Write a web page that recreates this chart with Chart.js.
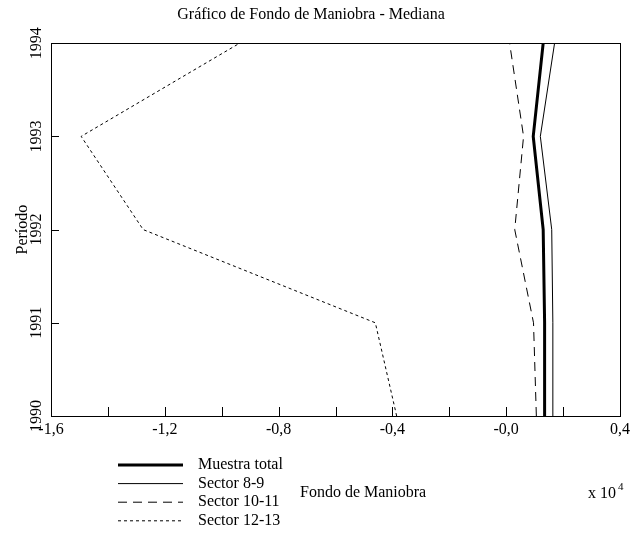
<!DOCTYPE html>
<html>
<head>
<meta charset="utf-8">
<script src="https://cdn.jsdelivr.net/npm/chart.js@4"></script>
<style>
  html, body { margin: 0; padding: 0; background: #fff; }
  #wrap { width: 634px; height: 548px; }
</style>
</head>
<body>
<div id="wrap"><canvas id="my-chart" width="634" height="548"></canvas></div>
<script>
// data (x in units of 10^4)
const years = [1990, 1991, 1992, 1993, 1994];
const muestraTotal = [0.135, 0.135, 0.13, 0.095, 0.13];
const sector89 = [0.164, 0.164, 0.16, 0.12, 0.17];
const sector1011 = [0.106, 0.096, 0.03, 0.061, 0.012];
const sector1213 = [-0.385, -0.46, -1.276, -1.494, -0.937];
const seriesNames = ['Muestra total', 'Sector 8-9', 'Sector 10-11', 'Sector 12-13'];
const xTickLabels = ['-1,6', '-1,2', '-0,8', '-0,4', '-0,0', '0,4'];

const serif = 'Liberation Serif, Times New Roman, serif';

function toPoints(vals) {
  return years.map((y, i) => ({ x: vals[i], y: y }));
}

// MATLAB-like inner ticks, box, legend and axis notes
const matlabBits = {
  id: 'matlabBits',
  afterDatasetsDraw(chart) {
    const ctx = chart.ctx;
    const a = chart.chartArea;
    const xs = chart.scales.x, ys = chart.scales.y;
    ctx.save();
    ctx.strokeStyle = '#000';
    ctx.lineWidth = 1;
    ctx.beginPath();
    xs.ticks.forEach(t => {
      const px = Math.round(xs.getPixelForValue(t.value)) + 0.5;
      ctx.moveTo(px, a.bottom);
      ctx.lineTo(px, a.bottom - 9);
    });
    ys.ticks.forEach(t => {
      const py = Math.round(ys.getPixelForValue(t.value)) + 0.5;
      ctx.moveTo(a.left, py);
      ctx.lineTo(a.left + 8, py);
    });
    ctx.stroke();
    ctx.strokeRect(Math.round(a.left) + 0.5, Math.round(a.top) + 0.5,
      Math.round(a.right - a.left), Math.round(a.bottom - a.top));

    // legend, one row per series
    ctx.font = '16px ' + serif;
    ctx.fillStyle = '#000';
    ctx.textBaseline = 'middle';
    chart.data.datasets.forEach((ds, i) => {
      const y = 465 + i * 18.6;
      ctx.beginPath();
      ctx.lineWidth = ds.borderWidth;
      ctx.setLineDash(ds.borderDash || []);
      ctx.moveTo(118, y);
      ctx.lineTo(183, y);
      ctx.stroke();
      ctx.setLineDash([]);
      ctx.textAlign = 'left';
      ctx.fillText(ds.label, 198, y);
    });

    ctx.textAlign = 'left';
    ctx.fillText('Fondo de Maniobra', 300, 493);
    ctx.fillText('x 10', 588, 494);
    ctx.font = '11px ' + serif;
    ctx.fillText('4', 618, 487);
    ctx.restore();
  }
};

const ctx = document.getElementById('my-chart').getContext('2d');
const chart = new Chart(ctx, {
  type: 'scatter',
  data: {
    datasets: [
      { label: seriesNames[0], data: toPoints(muestraTotal), borderColor: '#000', borderWidth: 3, showLine: true, pointRadius: 0 },
      { label: seriesNames[1], data: toPoints(sector89), borderColor: '#000', borderWidth: 1, showLine: true, pointRadius: 0 },
      { label: seriesNames[2], data: toPoints(sector1011), borderColor: '#000', borderWidth: 1, borderDash: [9, 6], showLine: true, pointRadius: 0 },
      { label: seriesNames[3], data: toPoints(sector1213), borderColor: '#000', borderWidth: 1, borderDash: [3, 3], showLine: true, pointRadius: 0 }
    ]
  },
  options: {
    responsive: false,
    animation: false,
    layout: { padding: { left: 0, right: 12, top: 0, bottom: 0 } },
    plugins: {
      legend: { display: false },
      tooltip: { enabled: false },
      title: {
        display: true,
        text: 'Gráfico de Fondo de Maniobra - Mediana',
        color: '#000',
        font: { family: serif, size: 16, weight: 'normal' },
        padding: { top: 5, bottom: 19 }
      }
    },
    scales: {
      x: {
        type: 'linear',
        min: -1.6,
        max: 0.4,
        grid: { display: false, drawTicks: false },
        border: { display: false },
        ticks: {
          stepSize: 0.2,
          color: '#000',
          font: { family: serif, size: 16 },
          padding: 4,
          autoSkip: false,
          maxRotation: 0,
          callback: (v, i) => (i % 2 === 0 ? xTickLabels[i / 2] : '')
        },
        afterFit: s => { s.height = 132; }
      },
      y: {
        type: 'linear',
        min: 1990,
        max: 1994,
        grid: { display: false, drawTicks: false },
        border: { display: false },
        title: {
          display: true,
          text: 'Período',
          color: '#000',
          font: { family: serif, size: 16 },
          padding: { top: 13, bottom: 0 }
        },
        ticks: {
          stepSize: 1,
          color: '#000',
          font: { family: serif, size: 16 },
          minRotation: 90,
          maxRotation: 90,
          crossAlign: 'center',
          padding: -2,
          callback: v => String(v)
        },
        afterFit: s => { s.width = 51; }
      }
    }
  },
  plugins: [matlabBits]
});
</script>
</body>
</html>
